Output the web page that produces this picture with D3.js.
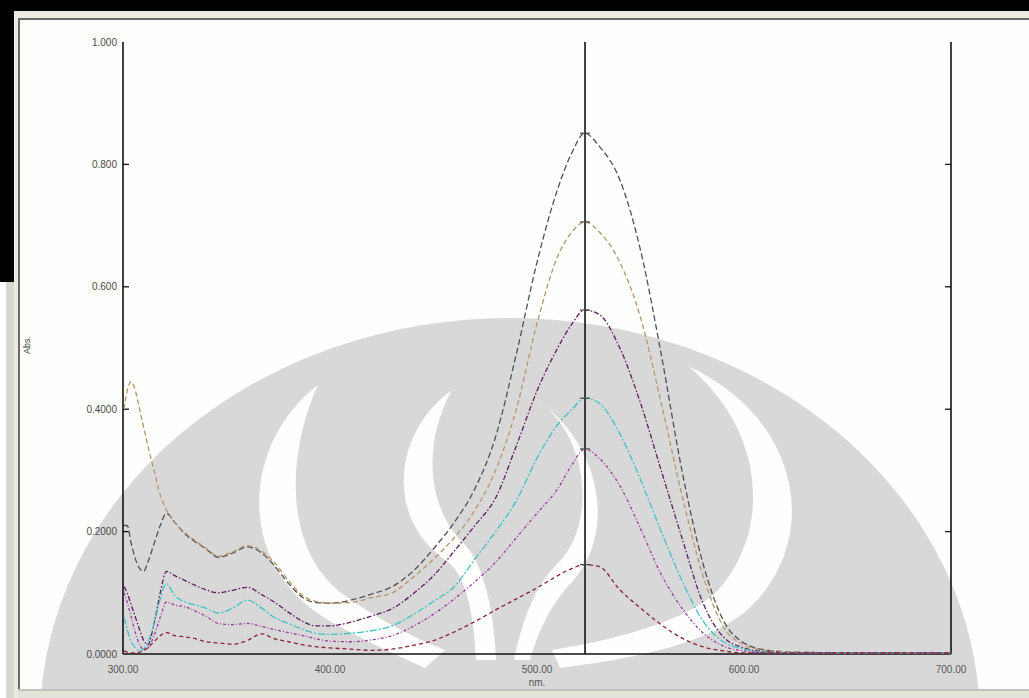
<!DOCTYPE html>
<html>
<head>
<meta charset="utf-8">
<script src="https://cdn.jsdelivr.net/npm/d3@7/dist/d3.min.js"></script>
<style>
  html, body { margin: 0; padding: 0; background: #ffffff; }
  svg { display: block; }
  text { font-family: "Liberation Sans", Arial, sans-serif; }
</style>
</head>
<body>
<svg id="chart" width="1029" height="698"></svg>
<script>
// Wavelength grid (nm) shared by every spectrum
const wavelengths = [300.5, 302, 304, 306, 308, 310, 312, 315, 318, 321,
  325, 330, 335, 340, 346, 353, 360, 367, 373, 380,
  387, 393, 400, 410, 420, 430, 440, 450, 460, 470,
  480, 490, 500, 510, 517, 523, 530, 540, 550, 560,
  570, 580, 590, 600, 610, 625, 650, 675, 700];

// Absorbance of each sample on that grid
const absGrey = [0.21, 0.21, 0.18, 0.155, 0.14, 0.135, 0.15, 0.18, 0.21, 0.23,
  0.215, 0.196, 0.183, 0.172, 0.158, 0.165, 0.175, 0.165, 0.145, 0.115,
  0.092, 0.084, 0.083, 0.088, 0.098, 0.11, 0.135, 0.172, 0.215, 0.27,
  0.355, 0.49, 0.64, 0.76, 0.82, 0.851, 0.83, 0.775, 0.66, 0.49,
  0.30, 0.15, 0.055, 0.018, 0.007, 0.003, 0.002, 0.002, 0.002];
const absTan = [0.40, 0.43, 0.445, 0.43, 0.40, 0.37, 0.34, 0.30, 0.26, 0.235,
  0.215, 0.198, 0.185, 0.173, 0.16, 0.167, 0.177, 0.168, 0.15, 0.12,
  0.095, 0.086, 0.083, 0.084, 0.092, 0.10, 0.125, 0.155, 0.19, 0.235,
  0.30, 0.40, 0.54, 0.65, 0.69, 0.706, 0.69, 0.64, 0.55, 0.41,
  0.26, 0.13, 0.045, 0.015, 0.006, 0.003, 0.002, 0.002, 0.002];
const absPurple = [0.11, 0.10, 0.08, 0.06, 0.04, 0.022, 0.015, 0.05, 0.10, 0.135,
  0.128, 0.12, 0.112, 0.105, 0.10, 0.104, 0.109, 0.097, 0.085, 0.068,
  0.053, 0.046, 0.046, 0.052, 0.062, 0.074, 0.098, 0.128, 0.168, 0.21,
  0.255, 0.34, 0.43, 0.50, 0.54, 0.562, 0.555, 0.50, 0.41, 0.30,
  0.19, 0.085, 0.028, 0.01, 0.004, 0.002, 0.002, 0.002, 0.002];
const absCyan = [0.06, 0.04, 0.02, 0.01, 0.005, 0.008, 0.02, 0.05, 0.09, 0.115,
  0.095, 0.085, 0.08, 0.075, 0.067, 0.075, 0.088, 0.075, 0.06, 0.05,
  0.04, 0.034, 0.032, 0.034, 0.038, 0.046, 0.064, 0.086, 0.11, 0.155,
  0.20, 0.25, 0.32, 0.375, 0.40, 0.418, 0.41, 0.36, 0.285, 0.20,
  0.12, 0.055, 0.02, 0.008, 0.003, 0.002, 0.002, 0.002, 0.002];
const absMagenta = [0.10, 0.085, 0.06, 0.035, 0.015, 0.008, 0.01, 0.03, 0.06, 0.085,
  0.08, 0.077, 0.07, 0.062, 0.05, 0.048, 0.05, 0.045, 0.04, 0.035,
  0.03, 0.025, 0.021, 0.02, 0.023, 0.03, 0.045, 0.065, 0.09, 0.118,
  0.15, 0.19, 0.23, 0.27, 0.31, 0.335, 0.32, 0.275, 0.205, 0.13,
  0.075, 0.035, 0.013, 0.005, 0.002, 0.002, 0.002, 0.002, 0.002];
const absRed = [0.005, 0.003, 0.002, 0.002, 0.003, 0.006, 0.01, 0.02, 0.03, 0.035,
  0.03, 0.028, 0.025, 0.02, 0.018, 0.016, 0.022, 0.033, 0.025, 0.02,
  0.015, 0.012, 0.01, 0.008, 0.006, 0.008, 0.014, 0.022, 0.036, 0.053,
  0.072, 0.09, 0.108, 0.128, 0.14, 0.146, 0.143, 0.105, 0.075, 0.048,
  0.026, 0.012, 0.005, 0.002, 0.002, 0.002, 0.002, 0.002, 0.002];

// Axis tick values and their printed labels
const xTicks = [300, 400, 500, 600, 700];
const xTickLabels = ["300.00", "400.00", "500.00", "600.00", "700.00"];
const yTicks = [0, 0.2, 0.4, 0.6, 0.8, 1.0];
const yTickLabels = ["0.0000", "0.2000", "0.4000", "0.600", "0.800", "1.000"];
const cursorWavelength = 523.2;

const seriesList = [
  { values: absGrey,    color: "#555050", dash: "6,3" },
  { values: absTan,     color: "#b8946a", dash: "5,3" },
  { values: absPurple,  color: "#5e1c5e", dash: "5,2,1.5,2" },
  { values: absCyan,    color: "#3fc2c6", dash: "7,2,2,2" },
  { values: absMagenta, color: "#9c3a9c", dash: "3,2,1,2" },
  { values: absRed,     color: "#8a2232", dash: "4,3" }
];

const svg = d3.select("#chart");
const W = 1029, H = 698;
const paper = "#fefefc";

// ---- page background ----
svg.append("rect").attr("x", 0).attr("y", 0).attr("width", W).attr("height", H).attr("fill", paper);

// ---- background emblem (grey watermark) ----
const wmg = svg.append("g");
wmg.append("ellipse").attr("cx", 510).attr("cy", 722).attr("rx", 470).attr("ry", 404).attr("fill", "#d8d8d8");
const gaps = [
  // outer left crescent, sweeping down to the right
  "M 318 385 C 245 440, 232 560, 325 618 C 365 642, 400 656, 425 668 L 445 650 C 410 636, 372 616, 340 592 C 282 545, 288 450, 318 385 Z",
  // outer right crescent, sweeping down to the left
  "M 688 366 C 805 420, 822 545, 745 612 C 700 648, 620 660, 560 668 L 552 650 C 615 640, 690 620, 718 590 C 772 530, 765 430, 688 366 Z",
  // inner left crescent
  "M 452 390 C 393 432, 384 520, 448 562 C 468 578, 474 620, 476 660 L 496 660 C 494 612, 484 566, 466 546 C 424 506, 424 440, 452 390 Z",
  // inner right crescent
  "M 520 390 C 590 420, 600 525, 556 565 C 536 585, 522 620, 514 660 L 530 660 C 540 625, 556 598, 572 582 C 620 530, 600 430, 520 390 Z"
];
wmg.selectAll(".gap").data(gaps).enter().append("path")
  .attr("d", d => d).attr("fill", paper);

// ---- window frame drawn over the emblem ----
svg.append("rect").attr("x", 0).attr("y", 0).attr("width", W).attr("height", 11).attr("fill", "#000");
svg.append("rect").attr("x", 0).attr("y", 0).attr("width", 14).attr("height", 282).attr("fill", "#000");
svg.append("rect").attr("x", 0).attr("y", 282).attr("width", 6).attr("height", H - 282).attr("fill", paper);
svg.append("rect").attr("x", 6).attr("y", 282).attr("width", 9).attr("height", H - 282).attr("fill", "#d8d8d0");
svg.append("rect").attr("x", 14).attr("y", 11).attr("width", W - 14).attr("height", 7).attr("fill", "#ecebe0");
svg.append("rect").attr("x", 14).attr("y", 11).attr("width", 4).attr("height", H - 11).attr("fill", "#ecebe0");
svg.append("line").attr("x1", 18).attr("x2", W).attr("y1", 19).attr("y2", 19).attr("stroke", "#6a6a6a").attr("stroke-width", 2);
svg.append("line").attr("x1", 19).attr("x2", 19).attr("y1", 19).attr("y2", 689).attr("stroke", "#6a6a6a").attr("stroke-width", 2);
svg.append("rect").attr("x", 18).attr("y", 689).attr("width", W - 18).attr("height", 9).attr("fill", "#e4e3da");
svg.append("line").attr("x1", 18).attr("x2", W).attr("y1", 690).attr("y2", 690).attr("stroke", "#b8b8b0").attr("stroke-width", 1.5);

// ---- scales ----
const x = d3.scaleLinear().domain([300, 700]).range([123, 951]);
const y = d3.scaleLinear().domain([0, 1]).range([654, 42]);

// ---- axes ----
const axisColor = "#111";
svg.append("line").attr("x1", x(300)).attr("x2", x(300)).attr("y1", y(1)).attr("y2", y(0)).attr("stroke", axisColor).attr("stroke-width", 1.6);
svg.append("line").attr("x1", x(700)).attr("x2", x(700)).attr("y1", y(1)).attr("y2", y(0)).attr("stroke", axisColor).attr("stroke-width", 1.6);
svg.append("line").attr("x1", x(300)).attr("x2", x(700)).attr("y1", y(0)).attr("y2", y(0)).attr("stroke", axisColor).attr("stroke-width", 1.6);

// inward ticks on left and right frames
const innerTicks = yTicks.filter(v => v > 0 && v < 1);
svg.selectAll(".lt").data(innerTicks).enter().append("line")
  .attr("x1", x(300)).attr("x2", x(300) + 6).attr("y1", d => y(d)).attr("y2", d => y(d))
  .attr("stroke", axisColor).attr("stroke-width", 1.3);
svg.selectAll(".rt").data(innerTicks).enter().append("line")
  .attr("x1", x(700) - 6).attr("x2", x(700)).attr("y1", d => y(d)).attr("y2", d => y(d))
  .attr("stroke", axisColor).attr("stroke-width", 1.3);

// tick labels
svg.selectAll(".yl").data(yTicks).enter().append("text")
  .attr("x", x(300) - 6).attr("y", d => y(d) + 3.5)
  .attr("text-anchor", "end").attr("font-size", 10).attr("fill", "#4a4a4a")
  .text((d, i) => yTickLabels[i]);
svg.selectAll(".xl").data(xTicks).enter().append("text")
  .attr("x", d => x(d)).attr("y", 673)
  .attr("text-anchor", "middle").attr("font-size", 10).attr("fill", "#555")
  .text((d, i) => xTickLabels[i]);

// axis titles
svg.append("text").attr("x", x(500)).attr("y", 686).attr("text-anchor", "middle")
  .attr("font-size", 10).attr("fill", "#555").text("nm.");
svg.append("text").attr("transform", "translate(30,345) rotate(-90)").attr("text-anchor", "middle")
  .attr("font-size", 9).attr("fill", "#444").text("Abs.");

// cursor line at the absorption maximum
svg.append("line").attr("x1", x(cursorWavelength)).attr("x2", x(cursorWavelength))
  .attr("y1", y(1)).attr("y2", y(0)).attr("stroke", "#111").attr("stroke-width", 1.6);

// ---- spectra ----
const line = d3.line()
  .x(d => x(d[0]))
  .y(d => y(d[1]))
  .curve(d3.curveMonotoneX);

seriesList.forEach(s => {
  const pts = wavelengths.map((w, i) => [w, s.values[i]]);
  svg.append("path")
    .attr("d", line(pts))
    .attr("fill", "none")
    .attr("stroke", s.color)
    .attr("stroke-width", 1.3)
    .attr("stroke-dasharray", s.dash);
});

// peak markers on the cursor line
const peakIdx = wavelengths.indexOf(523);
seriesList.forEach(s => {
  const py = y(s.values[peakIdx]);
  const px = x(cursorWavelength);
  svg.append("line").attr("x1", px - 5).attr("x2", px + 5).attr("y1", py).attr("y2", py)
    .attr("stroke", "#444").attr("stroke-width", 1.2);
  svg.append("line").attr("x1", px).attr("x2", px).attr("y1", py - 4).attr("y2", py + 4)
    .attr("stroke", "#444").attr("stroke-width", 1.2);
});
</script>
</body>
</html>
